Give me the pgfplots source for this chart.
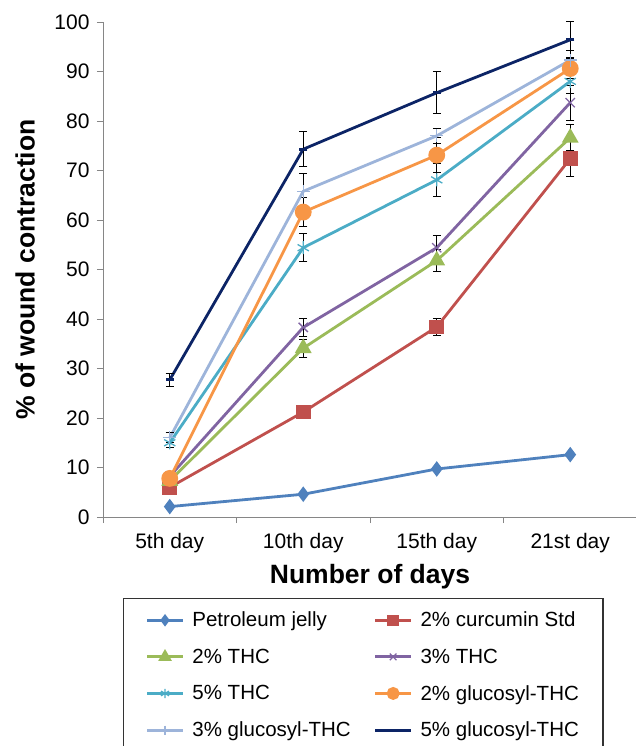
\documentclass[border=0pt]{standalone}
\usepackage{fontspec}
\setmainfont{Liberation Sans}
\usepackage{pgfplots}
\pgfplotsset{compat=1.18}

\definecolor{cPJ}{HTML}{4F81BD}
\definecolor{cCur}{HTML}{C0504D}
\definecolor{cTtwo}{HTML}{9BBB59}
\definecolor{cTthree}{HTML}{8064A2}
\definecolor{cTfive}{HTML}{4BACC6}
\definecolor{cGtwo}{HTML}{F79646}
\definecolor{cGthree}{HTML}{9DB4DA}
\definecolor{cGfive}{HTML}{0C2466}
\definecolor{axgray}{HTML}{868686}

\begin{document}
\begin{tikzpicture}
\useasboundingbox (-103pt,-229pt) rectangle (533pt,517pt);
\begin{axis}[
    scale only axis,
    width=534pt, height=495pt,
    xmin=-0.5, xmax=3.5,
    ymin=0, ymax=100,
    axis x line*=bottom, axis y line*=left,
    axis line style={draw=axgray, line width=0.9pt},
    xtick={0,1,2,3},
    xticklabels={5th day, 10th day, 15th day, 21st day},
    major x tick style={draw=none},
    minor xtick={-0.5,0.5,1.5,2.5},
    minor x tick style={draw=axgray, line width=0.9pt},
    minor tick length=6pt,
    ytick={0,10,...,100},
    y tick style={draw=axgray, line width=0.9pt},
    major tick length=6pt,
    tick align=outside,
    tick label style={font=\fontsize{21}{23}\selectfont},
    /pgf/number format/assume math mode=true,
    xticklabel style={yshift=-7pt},
    yticklabel style={xshift=-4pt},
    xlabel={\textbf{Number of days}},
    ylabel={\textbf{\% of wound contraction}},
    label style={font=\fontsize{26.5}{29}\selectfont},
    xlabel style={at={(axis description cs:0.5,-0.121)}, anchor=center},
    ylabel style={at={(axis description cs:-0.146,0.5)}, anchor=center},
    every axis plot/.append style={line width=2.8pt},
    error bars/error bar style={black, line width=1pt},
    error bars/error mark options={rotate=90, black, mark size=4pt, line width=1pt},
    legend columns=2,
    legend cell align=left,
    legend image code/.code={
      \draw[mark repeat=2, mark phase=2, /tikz/every mark/.append style={scale=0.72}]
        plot coordinates {(0pt,0pt) (18pt,0pt) (36pt,0pt)};},
    legend style={at={(axis description cs:0.0375,-0.1636)}, anchor=north west,
      draw=black!80, line width=1.2pt,
      nodes={font=\fontsize{20.5}{22}\selectfont},
      inner xsep=22pt, inner ysep=11.5pt, row sep=16.5pt,
      /tikz/every odd column/.append style={column sep=6pt},
      /tikz/every even column/.append style={column sep=21pt}},
  ]
  \addplot[color=cPJ, mark=diamond*, mark size=5.5pt, mark options={fill=cPJ}]
    coordinates {(0,2.1) (1,4.6) (2,9.7) (3,12.6)};
  \addplot[color=cCur, mark=square*, mark size=6pt, mark options={fill=cCur},
    error bars/.cd, y dir=both, y explicit]
    coordinates {(0,6.0) +- (0,0.5) (1,21.2) +- (0,0.5) (2,38.4) +- (0,1.8) (3,72.4) +- (0,3.6)};
  \addplot[color=cTtwo, mark=triangle*, mark size=7pt, mark options={fill=cTtwo},
    error bars/.cd, y dir=both, y explicit]
    coordinates {(0,7.3) +- (0,0.5) (1,34.1) +- (0,1.8) (2,51.8) +- (0,2.3) (3,76.6) +- (0,2.6)};
  \addplot[color=cTthree, mark=x, mark size=6.5pt, mark options={line width=1.3pt},
    error bars/.cd, y dir=both, y explicit]
    coordinates {(0,8.2) +- (0,0.5) (1,38.3) +- (0,1.9) (2,54.4) +- (0,2.5) (3,83.7) +- (0,3.5)};
  \addplot[color=cTfive, mark=asterisk, mark size=6.5pt, mark options={line width=1.3pt},
    error bars/.cd, y dir=both, y explicit]
    coordinates {(0,15.0) +- (0,1.0) (1,54.4) +- (0,2.8) (2,68.1) +- (0,3.4) (3,88.0) +- (0,2.5)};
  \addplot[color=cGtwo, mark=*, mark size=7pt, mark options={fill=cGtwo},
    error bars/.cd, y dir=both, y explicit]
    coordinates {(0,7.8) +- (0,1.0) (1,61.6) +- (0,3.0) (2,73.1) +- (0,3.5) (3,90.6) +- (0,2.0)};
  \addplot[color=cGthree, mark=+, mark size=6.5pt, mark options={line width=1.3pt},
    error bars/.cd, y dir=both, y explicit]
    coordinates {(0,16.0) +- (0,1.0) (1,65.8) +- (0,3.6) (2,77.0) +- (0,1.5) (3,92.3) +- (0,2.0)};
  \addplot[color=cGfive, mark=-, mark size=4pt, mark options={line width=3pt},
    error bars/.cd, y dir=both, y explicit]
    coordinates {(0,27.7) +- (0,1.3) (1,74.3) +- (0,3.5) (2,85.7) +- (0,4.2) (3,96.4) +- (0,3.6)};
  \legend{Petroleum jelly, 2\% curcumin Std, 2\% THC, 3\% THC, 5\% THC,
    2\% glucosyl-THC, 3\% glucosyl-THC, 5\% glucosyl-THC}
\end{axis}
\end{tikzpicture}
\end{document}
